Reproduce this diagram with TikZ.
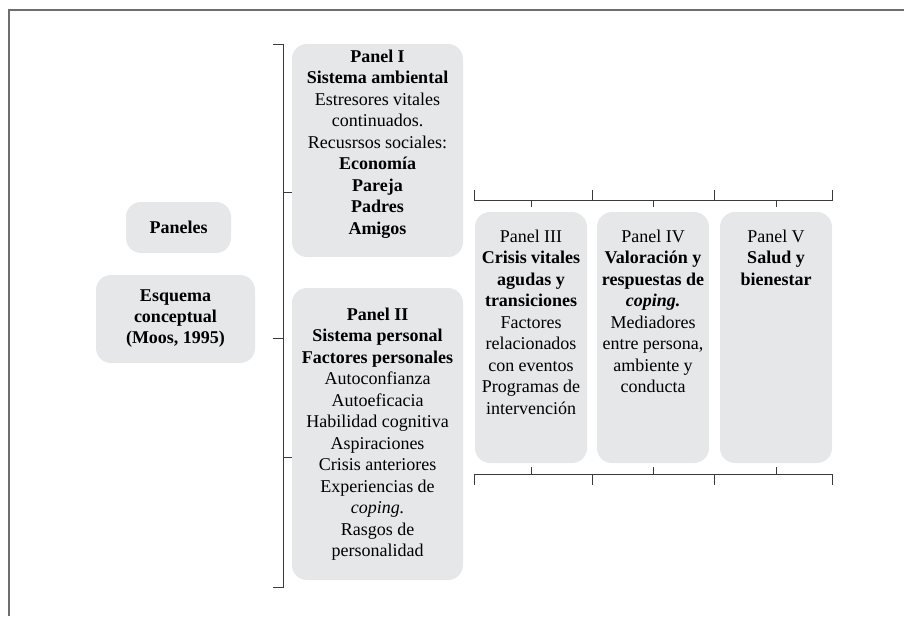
\documentclass[tikz,border=0pt]{standalone}
\usepackage{fontspec}
\setmainfont{Liberation Serif}
\definecolor{panelfill}{HTML}{E6E7E8}
\definecolor{framegray}{HTML}{6E6E6E}
\definecolor{bracketcol}{HTML}{3A3A3A}
\begin{document}
\begin{tikzpicture}[x=1pt,y=-1pt,
  panelbox/.style={fill=panelfill,draw=none,rounded corners=15pt,inner sep=0pt},
  paneltext/.style={anchor=north,inner sep=0pt,align=center,font=\fontsize{18}{21.5}\selectfont},
  boxtext/.style={panelbox,align=center,font=\fontsize{18}{21}\selectfont},
  bracket/.style={draw=bracketcol,line width=1pt},
  framerule/.style={draw=framegray,line width=1.5pt}]
\useasboundingbox (0,0) rectangle (904,616);

% outer frame
\draw[framerule] (904,10) -- (9,10) -- (9,616);

% left column
\node[boxtext,minimum width=105pt,minimum height=51pt] (paneles) at (178.5,227.5) {\textbf{Paneles}};
\node[boxtext,minimum width=159pt,minimum height=88pt] (esquema) at (175.5,319) {\textbf{Esquema}\\\textbf{conceptual}\\\textbf{(Moos, 1995)}};

% panels I and II
\node[panelbox,minimum width=171pt,minimum height=213pt] (p1) at (377.5,150.5) {};
\node[paneltext] (p1t) at (377.5,49.7) {\textbf{Panel I}\\\textbf{Sistema ambiental}\\Estresores vitales\\continuados.\\Recusrsos sociales:\\\textbf{Economía}\\\textbf{Pareja}\\\textbf{Padres}\\\textbf{Amigos}};
\node[panelbox,minimum width=171pt,minimum height=292pt] (p2) at (377.5,434) {};
\node[paneltext] (p2t) at (377.5,307.7) {\textbf{Panel II}\\\textbf{Sistema personal}\\\textbf{Factores personales}\\Autoconfianza\\Autoeficacia\\Habilidad cognitiva\\Aspiraciones\\Crisis anteriores\\Experiencias de\\\textit{coping.}\\Rasgos de\\personalidad};

% panels III, IV and V
\node[panelbox,minimum width=112pt,minimum height=251pt] (p3) at (531,337.5) {};
\node[panelbox,minimum width=112pt,minimum height=251pt] (p4) at (653,337.5) {};
\node[panelbox,minimum width=112pt,minimum height=251pt] (p5) at (776,337.5) {};
\node[paneltext] (p3t) at (531,229.7) {Panel III\\\textbf{Crisis vitales}\\\textbf{agudas y}\\\textbf{transiciones}\\Factores\\relacionados\\con eventos\\Programas de\\intervención};
\node[paneltext] (p4t) at (653,229.7) {Panel IV\\\textbf{Valoración y}\\\textbf{respuestas de}\\\textbf{\textit{coping.}}\\Mediadores\\entre persona,\\ambiente y\\conducta};
\node[paneltext] (p5t) at (776,229.7) {Panel V\\\textbf{Salud y}\\\textbf{bienestar}};

% left bracket joining panels I and II
\coordinate (lbTop) at (283,44);
\coordinate (lbBot) at (283,587);
\coordinate (lbMid) at (283,338);
\coordinate (lbA) at (283,192);
\coordinate (lbB) at (283,457);
\draw[bracket] ([xshift=-10pt]lbTop) -- (lbTop) -- (lbBot) -- ([xshift=-10pt]lbBot);
\draw[bracket] (lbMid) -- ([xshift=-10pt]lbMid);
\draw[bracket] (lbA) -- (lbA -| p1.west);
\draw[bracket] (lbB) -- (lbB -| p2.west);

% top bracket over panels III to V (shifts are in canvas units: up is positive)
\coordinate (tbL) at (474,200);
\coordinate (tbR) at (832,200);
\draw[bracket] ([yshift=10pt]tbL) -- (tbL) -- (tbR) -- ([yshift=10pt]tbR);
\foreach \x in {592,714.5}{\draw[bracket] (\x,200) -- (\x,190);}
\foreach \p in {p3,p4,p5}{\draw[bracket] (tbL -| \p.north) -- ([yshift=5pt]\p.north);}

% bottom bracket under panels III to V
\coordinate (bbL) at (474,474);
\coordinate (bbR) at (832,474);
\draw[bracket] ([yshift=-11pt]bbL) -- (bbL) -- (bbR) -- ([yshift=-11pt]bbR);
\foreach \x in {592,714.5}{\draw[bracket] (\x,474) -- (\x,485);}
\foreach \p in {p3,p4,p5}{\draw[bracket] (bbL -| \p.south) -- ([yshift=-4pt]\p.south);}
\end{tikzpicture}
\end{document}
